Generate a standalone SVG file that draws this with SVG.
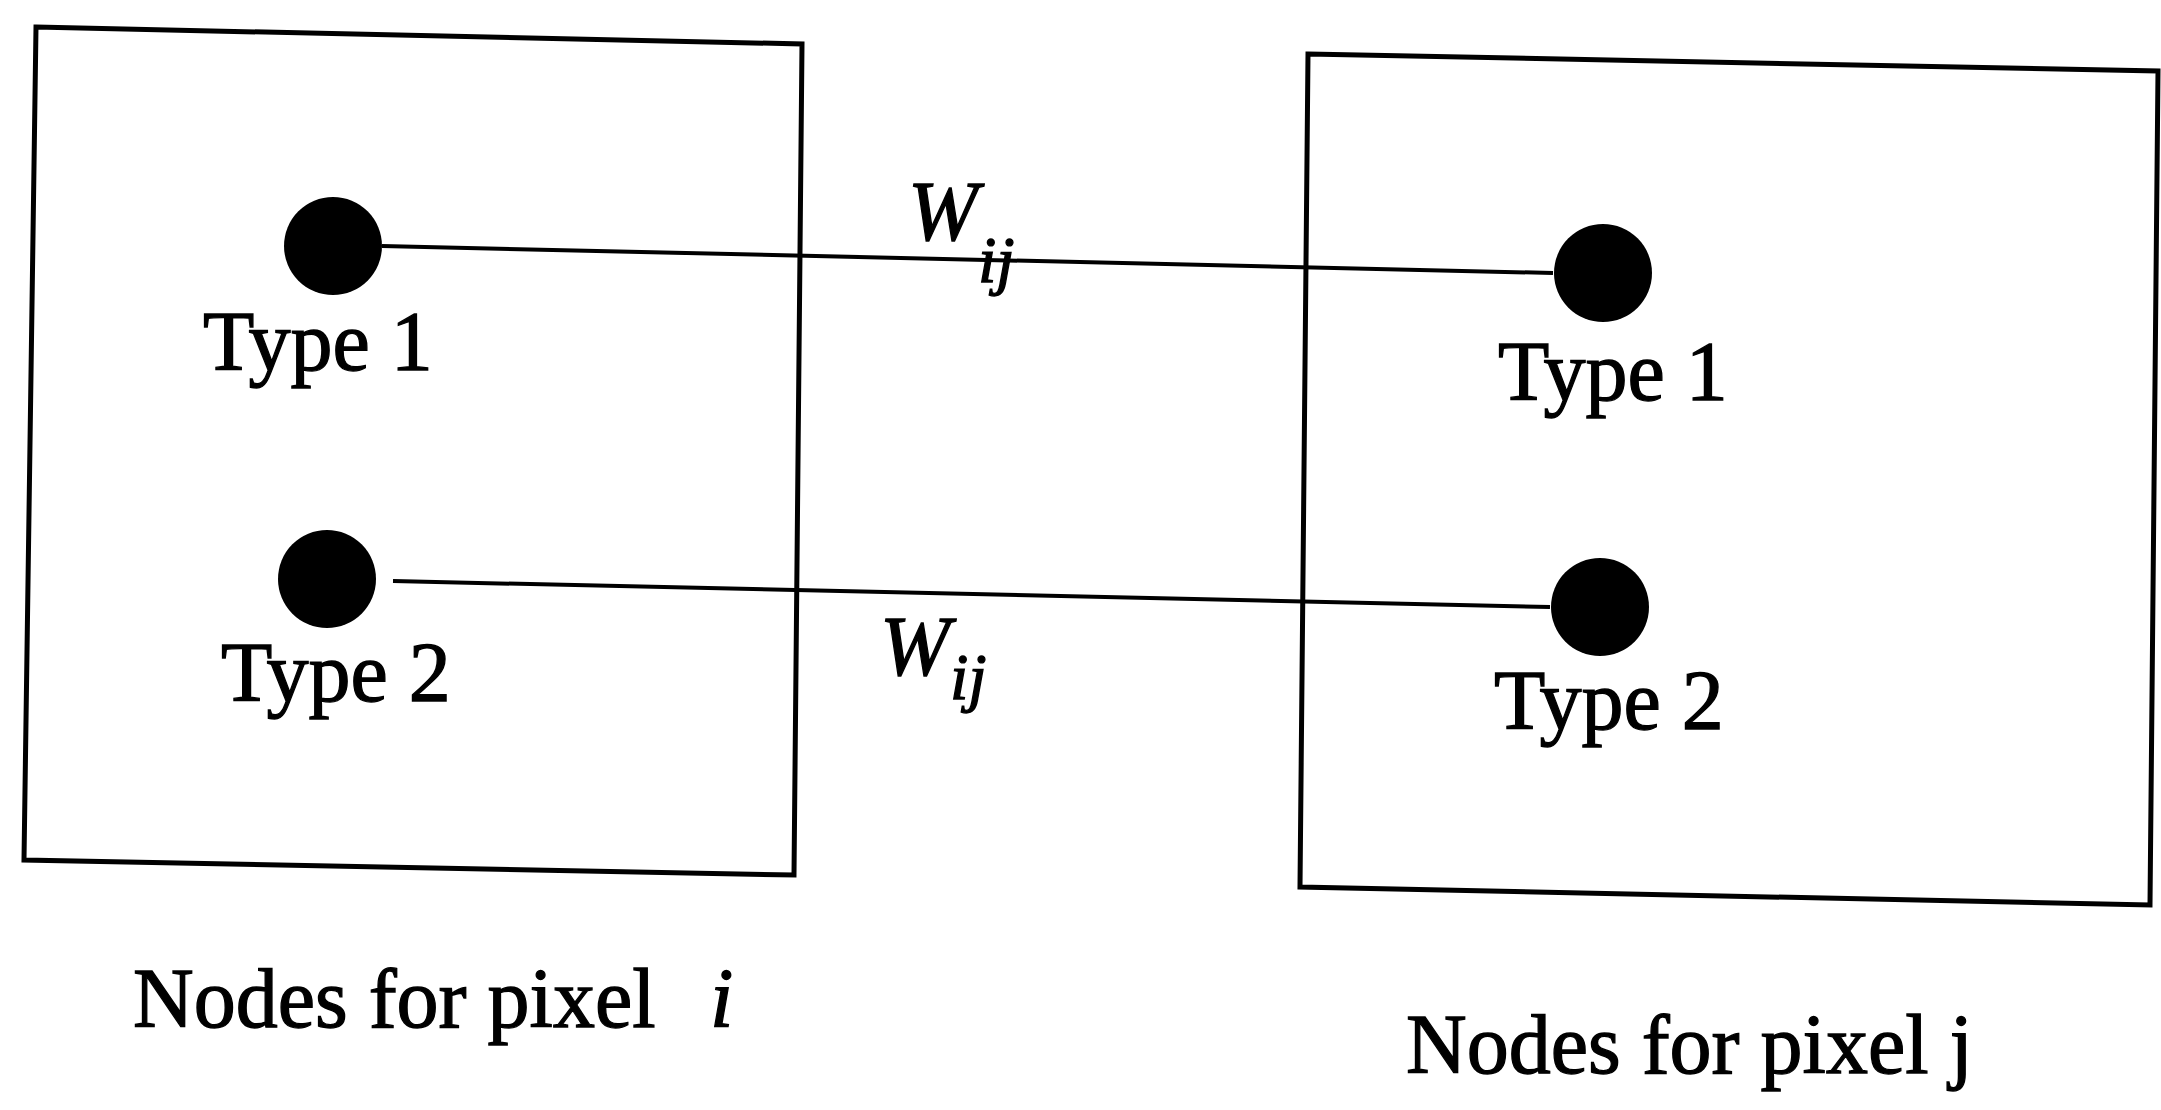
<svg xmlns="http://www.w3.org/2000/svg" width="2161" height="1110" viewBox="0 0 2161 1110">
<style>
.box{fill:none;stroke:#000;stroke-width:5;stroke-linejoin:miter}
.dot{fill:#000}
.edge{stroke:#000;stroke-width:4;fill:none}
.lbl{font-family:"Liberation Serif","Times New Roman",serif;font-size:84px;fill:#000;stroke:#000;stroke-width:1.3}
.it{font-style:italic}
.sub{font-size:66px}
</style>
<rect width="2161" height="1110" fill="#fff"/>
<g id="connectors">
<line class="edge" x1="382" y1="246" x2="1553" y2="273"/>
<line class="edge" x1="393" y1="581" x2="1550" y2="607"/>
<text class="lbl it" x="908" y="240">W<tspan class="sub" dy="42">ij</tspan></text>
<text class="lbl it" x="880" y="675">W<tspan class="sub" dy="24">ij</tspan></text>
</g>
<g id="pixel-i">
<polygon class="box" points="36,27 802,44 794,875 24,860"/>
<text class="lbl" x="133" y="1027">Nodes for pixel<tspan class="it" x="710">i</tspan></text>
</g>
<g id="pixel-j">
<polygon class="box" points="1308,54 2158,71 2150,905 1300,887"/>
<text class="lbl" x="1406" y="1073">Nodes for pixel j</text>
</g>
<g id="i-type1">
<circle class="dot" cx="333" cy="246" r="49"/>
<text class="lbl" x="203" y="370">Type 1</text>
</g>
<g id="i-type2">
<circle class="dot" cx="327" cy="579" r="49"/>
<text class="lbl" x="221" y="701">Type 2</text>
</g>
<g id="j-type1">
<circle class="dot" cx="1603" cy="273" r="49"/>
<text class="lbl" x="1498" y="400">Type 1</text>
</g>
<g id="j-type2">
<circle class="dot" cx="1600" cy="607" r="49"/>
<text class="lbl" x="1494" y="729">Type 2</text>
</g>
</svg>
